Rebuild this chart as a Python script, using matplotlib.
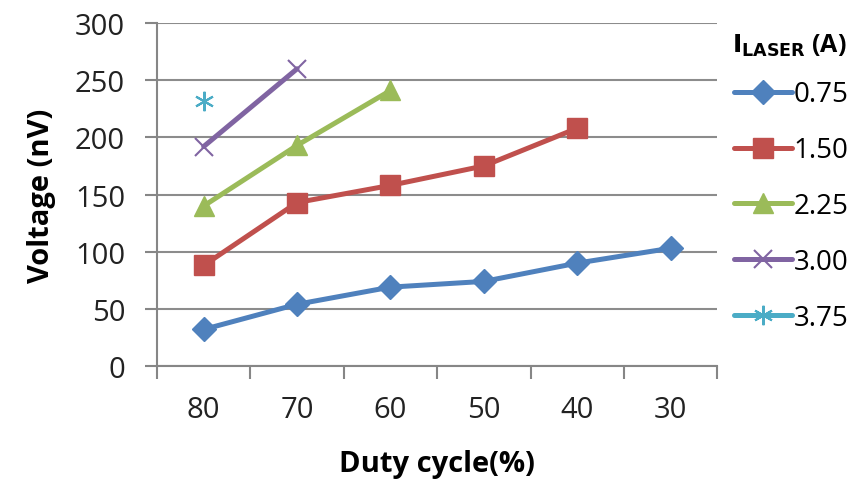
import matplotlib
matplotlib.use("Agg")
import matplotlib.pyplot as plt

categories = ["80", "70", "60", "50", "40", "30"]
s075 = [32, 54, 69, 74, 90, 103]
s150 = [88, 143, 158, 175, 208]
s225 = [140, 193, 241]
s300 = [192, 260]
s375 = [232]
labels = ["0.75", "1.50", "2.25", "3.00", "3.75"]
yticks = [0, 50, 100, 150, 200, 250, 300]

plt.rcParams['font.family'] = ['Open Sans', 'DejaVu Sans']

fig = plt.figure(figsize=(8.58, 4.81), dpi=100)
ax = fig.add_axes([0.183, 0.237, 0.653, 0.713])

series = [s075, s150, s225, s300, s375]
colors = ["#4F81BD", "#C0504D", "#9BBB59", "#8064A2", "#4BACC6"]
markers = ["D", "s", "^", "x", (6, 2, 0)]
msizes = [12, 14, 15, 13, 14]
mews = [1, 1, 1, 1.5, 1.5]
for vals, c, m, ms, mew, lab in zip(series, colors, markers, msizes, mews, labels):
    xs = list(range(len(vals)))
    ax.plot(xs, vals, color=c, lw=3.6, marker=m, ms=ms, mew=mew,
            mec=c, mfc=c, label=lab, solid_capstyle='round', zorder=3)

ax.set_xlim(-0.5, len(categories) - 0.5)
ax.set_ylim(0, 300)
ax.set_yticks(yticks)
ax.set_xticks(range(len(categories)))
ax.set_xticklabels(categories)
ax.set_xticks([i - 0.5 for i in range(len(categories) + 1)], minor=True)
ax.tick_params(axis='x', which='major', length=0, pad=21, labelsize=21, colors='#222222')
ax.tick_params(axis='x', which='minor', length=9, width=1.5, color='#868686', direction='out')
ax.tick_params(axis='y', length=9, width=1.5, color='#868686', labelsize=21, pad=14, labelcolor='#222222')
ax.grid(axis='y', color='#8c8c8c', lw=1.5)
ax.set_axisbelow(True)
for side in ['top', 'right']:
    ax.spines[side].set_visible(False)
for side in ['left', 'bottom']:
    ax.spines[side].set_color('#868686')
    ax.spines[side].set_linewidth(1.5)

ax.set_ylabel("Voltage (nV)", fontsize=21, fontweight='bold', labelpad=14)
ax.set_xlabel("Duty cycle(%)", fontsize=21, fontweight='bold', labelpad=18)

leg = ax.legend(loc='upper left', bbox_to_anchor=(1.01, 0.865), frameon=False,
                fontsize=20, handlelength=2.1, handletextpad=0.05,
                labelspacing=1.0, borderaxespad=0)
fig.text(0.853, 0.905, r"$\mathbf{I_{LASER}}$" + " (A)", fontsize=18,
         fontweight='bold', va='center', ha='left')

fig.savefig("out.png", dpi=100)
